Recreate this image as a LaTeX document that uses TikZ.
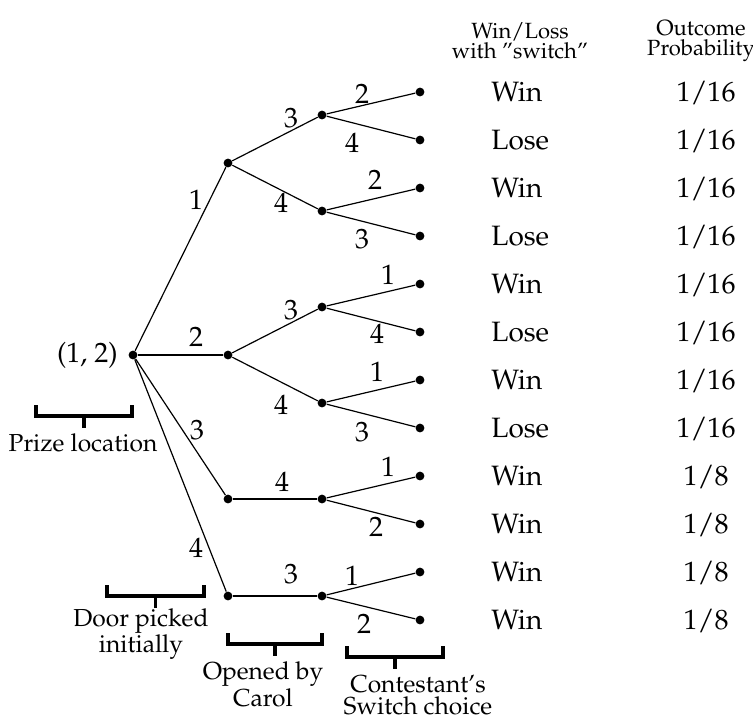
\documentclass[tikz,border=0pt]{standalone}
\usepackage[T1]{fontenc}
\usepackage{mathpazo}
\usetikzlibrary{positioning}
\tikzset{
  dot/.style={circle, fill=black, inner sep=0pt, minimum size=4.4pt},
  branch/.style={line width=0.6pt},
  lab/.style={font=\fontsize{14}{16}\selectfont, inner sep=0pt},
  res/.style={font=\fontsize{14}{16}\selectfont, anchor=base west, inner sep=0pt},
  prob/.style={font=\fontsize{14}{16}\selectfont, anchor=base, inner sep=0pt},
  hdr/.style={font=\fontsize{11}{9.8}\selectfont, align=center, inner sep=0pt},
  brack/.style={line width=1.6pt},
  note/.style={font=\fontsize{12.3}{11}\selectfont, align=center, inner sep=0pt},
}

\begin{document}
\begin{tikzpicture}[x=0.5pt, y=-0.5pt]
  \useasboundingbox (0,0) rectangle (753,719);

  % tree
  \node[dot] (r) at (133,355) {};
  \node[lab, left=5pt of r] (rl) {(1, 2)};
  \foreach \n/\y in {1/163, 2/355, 3/499, 4/596}
    \node[dot] (a\n) at (228,\y) {};
  \foreach \n/\y in {1/115, 2/211, 3/307, 4/403, 5/499, 6/596}
    \node[dot] (b\n) at (322,\y) {};
  \foreach \n in {1,...,12}
    \node[dot] (c\n) at (420,{44+48*\n}) {};

  \foreach \n in {1,...,4}
    \draw[branch] (r) -- (a\n);
  \foreach \p/\q in {a1/b1, a1/b2, a2/b3, a2/b4, a3/b5, a4/b6}
    \draw[branch] (\p) -- (\q);
  \foreach \k [evaluate=\k as \i using int(2*\k-1), evaluate=\k as \j using int(2*\k)] in {1,...,6}
    \draw[branch] (c\i) -- (b\k) -- (c\j);

  % door numbers on the branches
  \foreach \x/\y/\t [count=\m] in {196/200/1, 196/337/2, 197/430/3, 196/548/4,
      291/118/3, 281/203/4, 291/310/3, 281/405/4, 282/482/4, 291/574/3,
      362/94/2, 352/143/4, 375/180/2, 362/239/3, 388/275/1, 377/334/4,
      377/372/1, 362/432/3, 388/467/1, 376/527/2, 352/576/1, 364/624/2}
    \node[lab] (e\m) at (\x,\y) {\t};

  % results
  \node[hdr] (hwin) at (520,41) {Win/Loss\\with ''switch''};
  \node[hdr] (hprob) at (701,41) {Outcome\\Probability};
  \foreach \w/\p [count=\n] in {Win/16, Lose/16, Win/16, Lose/16, Win/16, Lose/16,
      Win/16, Lose/16, Win/8, Win/8, Win/8, Win/8} {
    \node[res] (w\n) at (491,{53+48*\n}) {\w};
    \node[prob] (p\n) at (706,{53+48*\n}) {1/\p};
  }

  % brackets
  \foreach \xa/\xb/\yt in {36/132/405, 107/204/585, 228/322/633, 347/443/646} {
    \draw[brack] (\xa,\yt) -- (\xa,\yt+11) -- (\xb,\yt+11) -- (\xb,\yt);
    \draw[brack] ({(\xa+\xb)/2},\yt+11) -- ++(0,12);
  }
  \node[note] (prize) at (83,443) {Prize location};
  \node[note] (picked) at (141,634) {Door picked\\initially};
  \node[note] (opened) at (263,684) {Opened by\\Carol};
  \node[note] (switch) at (418,695) {Contestant's\\Switch choice};
\end{tikzpicture}
\end{document}
